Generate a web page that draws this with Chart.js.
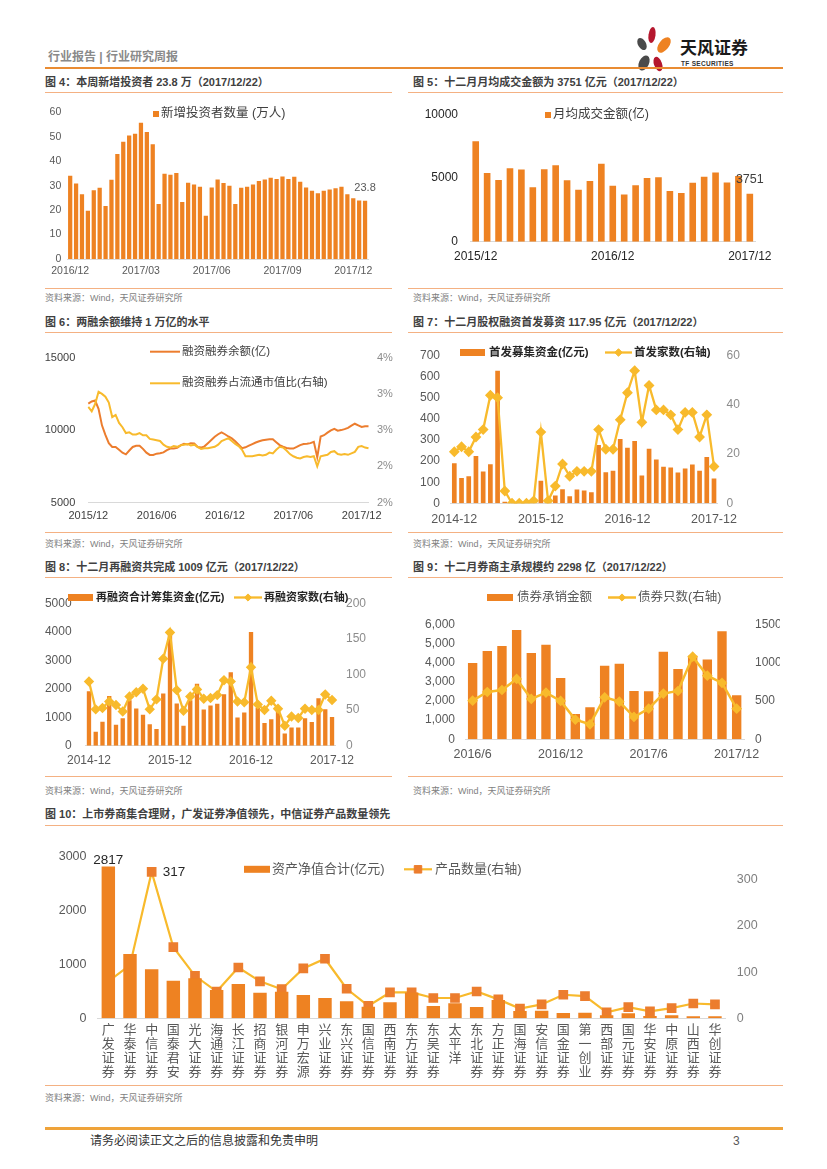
<!DOCTYPE html>
<html lang="zh-CN">
<head>
<meta charset="utf-8">
<title>行业研究周报</title>
<script src="https://cdn.jsdelivr.net/npm/chart.js@4.4.0/dist/chart.umd.min.js"></script>
<style>
  body { margin: 0; background: #fff; font-family: "Liberation Sans", "Noto Sans CJK SC", sans-serif; }
  #page { position: relative; width: 827px; height: 1169px; overflow: hidden; background: #fff; }
  .abs { position: absolute; white-space: nowrap; }
  .title { font-size: 11px; font-weight: bold; color: #404040; line-height: 14px; }
  .src { font-size: 9px; color: #7f7f7f; line-height: 12px; }
  .rule { position: absolute; height: 0; border-top: 1px solid #F4B183; }
  .box { position: absolute; }
</style>
</head>
<body>
<div id="page">
  <!-- header -->
  <div class="abs" style="left:48px;top:49px;font-size:12px;font-weight:bold;color:#8a8a8a;line-height:16px">行业报告 | 行业研究周报</div>
  <svg class="abs" style="left:630px;top:24px" width="50" height="50" viewBox="0 0 50 50">
    <ellipse cx="12" cy="20" rx="4" ry="6.5" fill="#4a4a4a" transform="rotate(-30 12 20)"/>
    <ellipse cx="22" cy="11" rx="3.5" ry="8" fill="#B5172E" transform="rotate(8 22 11)"/>
    <ellipse cx="34" cy="21" rx="5" ry="9" fill="#EE8222" transform="rotate(38 34 21)"/>
    <ellipse cx="14" cy="39" rx="5" ry="8" fill="#4a4a4a" transform="rotate(25 14 39)"/>
    <ellipse cx="28" cy="40" rx="4" ry="7.5" fill="#B5172E" transform="rotate(-20 28 40)"/>
  </svg>
  <div class="abs" style="left:680px;top:38px;font-size:17px;font-weight:bold;color:#1a1a1a;line-height:22px">天风证券</div>
  <div class="abs" style="left:681px;top:60px;font-size:6.5px;font-weight:bold;color:#333;line-height:8px;letter-spacing:0.3px">TF SECURITIES</div>
  <div class="rule" style="left:45px;top:67px;width:738px;border-top:2px solid #E98C33"></div>

  <!-- row 1 -->
  <div class="abs title" style="left:45px;top:75px">图 4：本周新增投资者 23.8 万（2017/12/22）</div>
  <div class="abs title" style="left:413px;top:75px">图 5：十二月月均成交金额为 3751 亿元（2017/12/22）</div>
  <div class="rule" style="left:45px;top:92px;width:347px"></div>
  <div class="rule" style="left:408px;top:92px;width:375px"></div>
  <div class="box" style="left:45px;top:100px;width:345px;height:186px"><canvas id="c4"></canvas></div>
  <div class="box" style="left:408px;top:95px;width:372px;height:190px"><canvas id="c5"></canvas></div>
  <div class="rule" style="left:45px;top:288px;width:347px"></div>
  <div class="rule" style="left:408px;top:288px;width:375px"></div>
  <div class="abs src" style="left:45px;top:292px">资料来源：Wind，天风证券研究所</div>
  <div class="abs src" style="left:413px;top:292px">资料来源：Wind，天风证券研究所</div>

  <!-- row 2 -->
  <div class="abs title" style="left:45px;top:315px">图 6：两融余额维持 1 万亿的水平</div>
  <div class="abs title" style="left:413px;top:315px">图 7：十二月股权融资首发募资 117.95 亿元（2017/12/22）</div>
  <div class="rule" style="left:45px;top:332px;width:347px"></div>
  <div class="rule" style="left:408px;top:332px;width:375px"></div>
  <div class="box" style="left:45px;top:338px;width:350px;height:195px"><canvas id="c6"></canvas></div>
  <div class="box" style="left:408px;top:338px;width:372px;height:195px"><canvas id="c7"></canvas></div>
  <div class="rule" style="left:45px;top:532px;width:347px"></div>
  <div class="rule" style="left:408px;top:532px;width:375px"></div>
  <div class="abs src" style="left:45px;top:538px">资料来源：Wind，天风证券研究所</div>
  <div class="abs src" style="left:413px;top:538px">资料来源：Wind，天风证券研究所</div>

  <!-- row 3 -->
  <div class="abs title" style="left:45px;top:560px">图 8：十二月再融资共完成 1009 亿元（2017/12/22）</div>
  <div class="abs title" style="left:413px;top:560px">图 9：十二月券商主承规模约 2298 亿（2017/12/22）</div>
  <div class="rule" style="left:45px;top:577px;width:347px"></div>
  <div class="rule" style="left:408px;top:577px;width:375px"></div>
  <div class="box" style="left:45px;top:582px;width:350px;height:190px"><canvas id="c8"></canvas></div>
  <div class="box" style="left:408px;top:582px;width:372px;height:190px"><canvas id="c9"></canvas></div>
  <div class="rule" style="left:45px;top:776px;width:347px"></div>
  <div class="rule" style="left:408px;top:776px;width:375px"></div>
  <div class="abs src" style="left:45px;top:785px">资料来源：Wind，天风证券研究所</div>
  <div class="abs src" style="left:413px;top:785px">资料来源：Wind，天风证券研究所</div>

  <!-- row 4 -->
  <div class="abs title" style="left:45px;top:807px">图 10：上市券商集合理财，广发证券净值领先，中信证券产品数量领先</div>
  <div class="rule" style="left:45px;top:825px;width:738px"></div>
  <div class="box" style="left:45px;top:830px;width:740px;height:255px"><canvas id="c10"></canvas></div>
  <div class="rule" style="left:45px;top:1085px;width:738px"></div>
  <div class="abs src" style="left:45px;top:1092px">资料来源：Wind，天风证券研究所</div>

  <!-- footer -->
  <div class="rule" style="left:45px;top:1127px;width:738px;border-top:3px solid #EFA33A"></div>
  <div class="abs" style="left:90px;top:1133px;font-size:12px;color:#333;line-height:16px">请务必阅读正文之后的信息披露和免责申明</div>
  <div class="abs" style="left:733px;top:1133px;font-size:12px;color:#595959;line-height:16px">3</div>
</div>

<script>
var FONT = '"Liberation Sans", "Noto Sans CJK SC", sans-serif';
var ORANGE = '#EE8222';
var YELLOW = '#F8BA2C';
var LINE_ORANGE = '#EC7D2E';

// 图4 weekly new investors (10k)
var fig4Ticks = ['2016/12', '2017/03', '2017/06', '2017/09', '2017/12'];
var fig4Values = [34.1, 30.9, 26.5, 19.7, 28.1, 29.1, 21.7, 32.4, 42.9, 48.0,
  50.5, 51.2, 55.7, 51.9, 46.9, 22.5, 34.9, 34.5, 35.2, 23.3,
  31.2, 30.5, 29.6, 17.7, 29.2, 32.5, 31.1, 30.0, 22.5, 29.1,
  29.6, 30.5, 31.9, 32.5, 33.2, 32.7, 33.7, 32.7, 33.6, 31.6,
  29.2, 27.9, 26.9, 27.9, 28.4, 28.9, 29.6, 26.5, 24.8, 23.9, 23.8];

// 图5 monthly average turnover (100m)
var fig5Ticks = ['2015/12', '2016/12', '2017/12'];
var fig5Values = [7877, 5383, 4840, 5753, 5654, 4272, 5679, 6000, 4815, 4074, 4765, 6123,
  4395, 3704, 4420, 4988, 5062, 3975, 3827, 4617, 5086, 5432, 4642, 5160, 3751];

// 图6 margin balance and ratio to free float cap
var fig6Ticks = ['2015/12', '2016/06', '2016/12', '2017/06', '2017/12'];
var fig6Balance = [11823, 11977, 12042, 11472, 10332, 9674, 9104, 8841, 8841, 8643,
  8446, 8336, 8599, 8841, 8928, 8928, 8709, 8446, 8292, 8292,
  8380, 8402, 8468, 8621, 8731, 8731, 8775, 8950, 9060, 9016,
  9104, 9082, 8841, 8797, 8884, 9104, 9323, 9542, 9718, 9849,
  9718, 9564, 9433, 9235, 8994, 8753, 8819, 8928, 9038, 9148,
  9235, 9301, 9345, 9367, 9367, 9170, 8972, 8863, 8775, 8731,
  8731, 8841, 8972, 9038, 9060, 9104, 9192, 8139, 9564, 9652,
  9827, 9981, 10091, 9959, 10003, 10069, 10157, 10310, 10442, 10332,
  10222, 10266, 10266];
var fig6Ratio = [3.07, 3.01, 3.11, 3.28, 3.25, 3.21, 3.13, 2.93, 2.96, 2.85,
  2.79, 2.71, 2.72, 2.69, 2.69, 2.71, 2.68, 2.68, 2.63, 2.62,
  2.61, 2.60, 2.55, 2.52, 2.51, 2.53, 2.52, 2.54, 2.55, 2.56,
  2.54, 2.55, 2.52, 2.49, 2.50, 2.50, 2.51, 2.52, 2.55, 2.60,
  2.62, 2.64, 2.60, 2.56, 2.53, 2.48, 2.39, 2.39, 2.39, 2.40,
  2.41, 2.40, 2.41, 2.44, 2.43, 2.48, 2.52, 2.51, 2.47, 2.42,
  2.39, 2.37, 2.36, 2.38, 2.39, 2.38, 2.39, 2.25, 2.39, 2.40,
  2.41, 2.45, 2.46, 2.42, 2.41, 2.42, 2.41, 2.43, 2.45, 2.52,
  2.53, 2.51, 2.50];

// 图7 IPO funds and IPO count
var fig7Ticks = ['2014-12', '2015-12', '2016-12', '2017-12'];
var fig7Funds = [190, 120, 129, 225, 151, 186, 630, 7, 0, 0,
  0, 0, 107, 3, 37, 67, 34, 66, 61, 53,
  277, 148, 154, 305, 264, 296, 132, 259, 208, 174,
  170, 146, 165, 184, 154, 220, 117.95];
var fig7Count = [21, 23, 21, 27, 30, 44, 43, 5, 0, 0,
  0, 1, 29, 1, 7, 16, 11, 13, 13, 13,
  30, 22, 22, 34, 45, 54, 33, 48, 38, 38,
  36, 30, 37, 37, 27, 36, 15];

// 图8 refinancing funds and count
var fig8Ticks = ['2014-12', '2015-12', '2016-12', '2017-12'];
var fig8Funds = [1908, 490, 842, 1748, 736, 960, 1599, 1301, 1087, 757,
  586, 1834, 3900, 1482, 704, 1599, 2175, 1269, 1407, 1471,
  1802, 2580, 991, 1162, 3987, 1333, 800, 928, 1247, 426,
  640, 640, 960, 832, 1663, 1279, 1009];
var fig8Count = [90, 51, 53, 62, 57, 48, 69, 75, 80, 51,
  65, 122, 159, 78, 49, 69, 79, 66, 67, 71,
  92, 90, 62, 61, 110, 58, 50, 63, 52, 28,
  41, 39, 52, 50, 50, 72, 64];

// 图9 bond underwriting amount and count
var fig9Ticks = ['2016/6', '2016/12', '2017/6', '2017/12'];
var fig9Amount = [3983, 4609, 4870, 5704, 4504, 4939, 3200, 1322, 1670, 3843,
  3948, 2522, 2504, 4574, 3670, 4365, 4157, 5635, 2298];
var fig9Count = [504, 617, 643, 787, 526, 609, 500, 257, 196, 548,
  491, 291, 400, 596, 630, 1078, 830, 735, 400];

// 图10 broker asset management
var fig10Brokers = ['广发证券', '华泰证券', '中信证券', '国泰君安', '光大证券', '海通证券', '长江证券',
  '招商证券', '银河证券', '申万宏源', '兴业证券', '东兴证券', '国信证券', '西南证券', '东方证券',
  '东吴证券', '太平洋', '东北证券', '方正证券', '国海证券', '安信证券', '国金证券', '第一创业',
  '西部证券', '国元证券', '华安证券', '中原证券', '山西证券', '华创证券'];
var fig10Nav = [2817, 1194, 909, 699, 742, 526, 637, 476, 495, 433, 377, 315, 216, 297, 480,
  229, 278, 210, 340, 136, 142, 99, 105, 56, 93, 43, 56, 37, 37];
var fig10Products = [80, 115, 317, 154, 92, 58, 110, 80, 63, 108, 129, 64, 27, 56, 56,
  44, 44, 58, 41, 21, 30, 51, 48, 13, 24, 15, 22, 32, 30];

function monthLabels(year, month, count, sep, pad) {
  var out = [];
  for (var i = 0; i < count; i++) {
    var k = month - 1 + i;
    var m = k % 12 + 1;
    out.push((year + Math.floor(k / 12)) + sep + (pad && m < 10 ? '0' + m : m));
  }
  return out;
}

function fitW(w) { return function (scale) { scale.width = w; }; }
function fitH(h) { return function (scale) { scale.height = h; }; }

function onlyTicks(list) {
  return function (value) {
    var label = this.getLabelForValue(value);
    return list.indexOf(label) >= 0 ? label : '';
  };
}

function catAxis(height, padding, size, color, callback) {
  var axis = {
    type: 'category',
    afterFit: fitH(height),
    grid: { display: false, drawTicks: false },
    border: { display: true, color: '#D9D9D9', width: 1 },
    ticks: { autoSkip: false, maxRotation: 0, minRotation: 0, padding: padding, font: { size: size }, color: color }
  };
  if (callback) axis.ticks.callback = callback;
  return axis;
}

function valAxis(position, width, padding, min, max, step, size, color, format) {
  return {
    type: 'linear',
    position: position,
    min: min,
    max: max,
    afterFit: fitW(width),
    grid: { display: false, drawTicks: false },
    border: { display: false },
    ticks: {
      stepSize: step, padding: padding, font: { size: size }, color: color,
      // plain numbers, no thousands separator unless asked for
      callback: format || function (v) { return String(v); }
    }
  };
}

// legend drawn at fixed spots, taking colour and text from the datasets
var pageLegend = {
  id: 'pageLegend',
  afterDraw: function (chart, args, opts) {
    if (!opts.items) return;
    var ctx = chart.ctx;
    ctx.save();
    ctx.textBaseline = 'middle';
    ctx.textAlign = 'left';
    opts.items.forEach(function (it) {
      var ds = chart.data.datasets[it.ds];
      if (it.kind === 'square') {
        ctx.fillStyle = ds.backgroundColor;
        ctx.fillRect(it.x, it.y - it.w / 2, it.w, it.w);
      } else if (it.kind === 'rect') {
        ctx.fillStyle = ds.backgroundColor;
        ctx.fillRect(it.x, it.y - 3.5, it.w, 7);
      } else {
        ctx.strokeStyle = ds.borderColor;
        ctx.lineWidth = ds.borderWidth;
        ctx.beginPath();
        ctx.moveTo(it.x, it.y);
        ctx.lineTo(it.x + it.w, it.y);
        ctx.stroke();
        if (ds.pointRadius > 0) {
          ctx.fillStyle = ds.pointBackgroundColor;
          ctx.strokeStyle = ds.pointBorderColor;
          ctx.lineWidth = 1;
          Chart.helpers.drawPoint(ctx, { pointStyle: ds.pointStyle, radius: ds.pointRadius, borderWidth: 1, rotation: 0 }, it.x + it.w / 2, it.y);
        }
      }
      ctx.font = (opts.bold ? 'bold ' : '') + opts.size + 'px ' + FONT;
      ctx.fillStyle = opts.color;
      ctx.fillText(ds.label, it.tx, it.y);
    });
    ctx.restore();
  }
};

// single value labels next to chosen marks
var valueLabels = {
  id: 'valueLabels',
  afterDatasetsDraw: function (chart, args, opts) {
    if (!opts.items) return;
    var ctx = chart.ctx;
    ctx.save();
    ctx.textBaseline = 'middle';
    opts.items.forEach(function (it) {
      var el = chart.getDatasetMeta(it.ds).data[it.index];
      var value = chart.data.datasets[it.ds].data[it.index];
      ctx.font = it.size + 'px ' + FONT;
      ctx.fillStyle = it.color;
      ctx.textAlign = it.align || 'center';
      ctx.fillText(String(value), el.x + (it.dx || 0), el.y + (it.dy || 0));
    });
    ctx.restore();
  }
};

Chart.register(pageLegend, valueLabels);
Chart.defaults.font.family = FONT;
Chart.defaults.color = '#595959';
Chart.defaults.animation = false;
Chart.defaults.maintainAspectRatio = false;
Chart.defaults.plugins.legend.display = false;
Chart.defaults.plugins.tooltip.enabled = false;

// 图4
var fig4Labels = fig4Values.map(function (v, i) { return i % 12 === 0 ? fig4Ticks[i / 12] : ''; });
new Chart(document.getElementById('c4'), {
  type: 'bar',
  data: {
    labels: fig4Labels,
    datasets: [{ label: '新增投资者数量 (万人)', data: fig4Values, backgroundColor: ORANGE, categoryPercentage: 1, barPercentage: 0.72 }]
  },
  options: {
    layout: { padding: { top: 9, right: 22, left: 0, bottom: 0 } },
    scales: {
      x: catAxis(27, 6, 10.5, '#595959'),
      y: valAxis('left', 21, 6, 0, 60, 10, 10.5, '#595959')
    },
    plugins: {
      pageLegend: { size: 12.5, color: '#404040', items: [{ ds: 0, kind: 'square', x: 108, w: 6, y: 14, tx: 116 }] },
      valueLabels: { items: [{ ds: 0, index: fig4Values.length - 1, dy: -13, size: 11, color: '#595959' }] }
    }
  }
});

// 图5
var fig5Months = monthLabels(2015, 12, fig5Values.length, '/', true);
new Chart(document.getElementById('c5'), {
  type: 'bar',
  data: {
    labels: fig5Months,
    datasets: [{ label: '月均成交金额(亿)', data: fig5Values, backgroundColor: ORANGE, categoryPercentage: 1, barPercentage: 0.58 }]
  },
  options: {
    layout: { padding: { top: 11.7, right: 24.3, left: 0, bottom: 0 } },
    scales: {
      x: catAxis(43.3, 8, 12, '#262626', onlyTicks(fig5Ticks)),
      y: valAxis('left', 62, 12, 0, 10000, 5000, 12, '#262626')
    },
    plugins: {
      pageLegend: { size: 12.5, color: '#404040', items: [{ ds: 0, kind: 'square', x: 137, w: 6, y: 20, tx: 145 }] },
      valueLabels: { items: [{ ds: 0, index: fig5Values.length - 1, dy: -14.5, size: 12.5, color: '#404040' }] }
    }
  }
});

// 图6
var fig6Labels = fig6Balance.map(function (v, i) { return i % 20 === 0 ? fig6Ticks[i / 20] : ''; });
new Chart(document.getElementById('c6'), {
  type: 'line',
  data: {
    labels: fig6Labels,
    datasets: [
      { label: '融资融券余额(亿)', data: fig6Balance, borderColor: LINE_ORANGE, borderWidth: 2, pointRadius: 0, yAxisID: 'y', order: 1 },
      { label: '融资融券占流通市值比(右轴)', data: fig6Ratio, borderColor: YELLOW, borderWidth: 2, pointRadius: 0, yAxisID: 'y1', order: 0 }
    ]
  },
  options: {
    layout: { padding: { top: 12.7, right: 0, left: 0, bottom: 0 } },
    scales: {
      x: catAxis(30.3, 6.5, 11, '#404040'),
      y: valAxis('left', 43.3, 13, 5000, 15000, 5000, 11, '#404040'),
      y1: valAxis('right', 26.5, 8.5, 1.75, 3.75, 0.5, 11, '#8c8c8c', function (v) { return Math.round(v) + '%'; })
    },
    plugins: {
      pageLegend: { size: 11.5, color: '#404040', items: [
        { ds: 0, kind: 'line', x: 105, w: 30, y: 13.7, tx: 137 },
        { ds: 1, kind: 'line', x: 105, w: 30, y: 45.3, tx: 137 }
      ] }
    }
  }
});

// 图7
var fig7Months = monthLabels(2014, 12, fig7Funds.length, '-', true);
new Chart(document.getElementById('c7'), {
  type: 'bar',
  data: {
    labels: fig7Months,
    datasets: [
      { label: '首发募集资金(亿元)', data: fig7Funds, backgroundColor: ORANGE, categoryPercentage: 1, barPercentage: 0.65, yAxisID: 'y', order: 1 },
      { type: 'line', label: '首发家数(右轴)', data: fig7Count, borderColor: YELLOW, borderWidth: 2.3, pointStyle: 'rectRot',
        pointRadius: 3.8, pointBackgroundColor: YELLOW, pointBorderColor: YELLOW, yAxisID: 'y1', order: 0 }
    ]
  },
  options: {
    layout: { padding: { top: 6, right: 0, left: 0, bottom: 0 } },
    scales: {
      x: catAxis(29.7, 8.5, 12.5, '#595959', onlyTicks(fig7Ticks)),
      y: valAxis('left', 42.7, 10.7, 0, 700, 100, 12, '#595959'),
      y1: valAxis('right', 62.4, 9, 0, 60, 20, 12, '#8c8c8c')
    },
    plugins: {
      pageLegend: { size: 11.5, bold: true, color: '#262626', items: [
        { ds: 0, kind: 'rect', x: 52, w: 25, y: 14.5, tx: 81 },
        { ds: 1, kind: 'line', x: 197, w: 27, y: 14.5, tx: 226 }
      ] }
    }
  }
});

// 图8
var fig8Months = monthLabels(2014, 12, fig8Funds.length, '-', true);
new Chart(document.getElementById('c8'), {
  type: 'bar',
  data: {
    labels: fig8Months,
    datasets: [
      { label: '再融资合计筹集资金(亿元)', data: fig8Funds, backgroundColor: ORANGE, categoryPercentage: 1, barPercentage: 0.64, yAxisID: 'y', order: 1 },
      { type: 'line', label: '再融资家数(右轴)', data: fig8Count, borderColor: YELLOW, borderWidth: 2.3, pointStyle: 'rectRot',
        pointRadius: 3.6, pointBackgroundColor: YELLOW, pointBorderColor: YELLOW, yAxisID: 'y1', order: 0 }
    ]
  },
  options: {
    layout: { padding: { top: 7.3, right: 0, left: 0, bottom: 0 } },
    scales: {
      x: catAxis(26.3, 8, 12, '#595959', onlyTicks(fig8Ticks)),
      y: valAxis('left', 40.6, 14, 0, 5000, 1000, 12, '#595959'),
      y1: valAxis('right', 59.6, 10.6, 0, 200, 50, 12, '#8c8c8c')
    },
    plugins: {
      pageLegend: { size: 11, bold: true, color: '#262626', items: [
        { ds: 0, kind: 'rect', x: 23, w: 25, y: 15.5, tx: 51 },
        { ds: 1, kind: 'line', x: 189, w: 28, y: 15.5, tx: 219 }
      ] }
    }
  }
});

// 图9
var fig9Months = monthLabels(2016, 6, fig9Amount.length, '/', false);
new Chart(document.getElementById('c9'), {
  type: 'bar',
  data: {
    labels: fig9Months,
    datasets: [
      { label: '债券承销金额', data: fig9Amount, backgroundColor: ORANGE, categoryPercentage: 1, barPercentage: 0.64, yAxisID: 'y', order: 1 },
      { type: 'line', label: '债券只数(右轴)', data: fig9Count, borderColor: YELLOW, borderWidth: 2.5, pointStyle: 'rectRot',
        pointRadius: 3.6, pointBackgroundColor: YELLOW, pointBorderColor: YELLOW, yAxisID: 'y1', order: 0 }
    ]
  },
  options: {
    layout: { padding: { top: 42.3, right: 0, left: 0, bottom: 0 } },
    scales: {
      x: catAxis(32.7, 8.2, 12.5, '#595959', onlyTicks(fig9Ticks)),
      y: valAxis('left', 57.3, 10.3, 0, 6000, 1000, 12, '#595959', function (v) { return v.toLocaleString('en-US'); }),
      y1: valAxis('right', 36, 11, 0, 1500, 500, 12, '#595959')
    },
    plugins: {
      pageLegend: { size: 12.5, color: '#595959', items: [
        { ds: 0, kind: 'rect', x: 79, w: 26, y: 15.5, tx: 109 },
        { ds: 1, kind: 'line', x: 200, w: 28, y: 15.5, tx: 230 }
      ] }
    }
  }
});

// 图10
var fig10Labels = fig10Brokers.map(function (name) { return name.split(''); });
new Chart(document.getElementById('c10'), {
  type: 'bar',
  data: {
    labels: fig10Labels,
    datasets: [
      { label: '资产净值合计(亿元)', data: fig10Nav, backgroundColor: ORANGE, categoryPercentage: 1, barPercentage: 0.62, yAxisID: 'y', order: 0 },
      { type: 'line', label: '产品数量(右轴)', data: fig10Products, borderColor: YELLOW, borderWidth: 2.2, pointStyle: 'rect',
        pointRadius: 5.3, pointBackgroundColor: LINE_ORANGE, pointBorderColor: LINE_ORANGE, yAxisID: 'y1', order: 1 }
    ]
  },
  options: {
    layout: { padding: { top: 26.7, right: 0, left: 0, bottom: 0 } },
    scales: {
      x: (function () {
        var ax = catAxis(66.7, 4.7, 13, '#595959');
        ax.ticks.font.lineHeight = 1.08;
        return ax;
      })(),
      y: valAxis('left', 52.5, 11, 0, 3000, 1000, 12.5, '#595959'),
      y1: valAxis('right', 59.2, 11, 0, 350, 100, 12.5, '#7f7f7f', function (v) { return v % 100 === 0 ? String(v) : ''; })
    },
    plugins: {
      pageLegend: { size: 13, color: '#595959', items: [
        { ds: 0, kind: 'rect', x: 199, w: 26, y: 39.3, tx: 227 },
        { ds: 1, kind: 'line', x: 359, w: 28, y: 39.3, tx: 390 }
      ] },
      valueLabels: { items: [
        { ds: 0, index: 0, dy: -6, size: 13.5, color: '#262626' },
        { ds: 1, index: 2, dx: 11, align: 'left', size: 13.5, color: '#262626' }
      ] }
    }
  }
});
</script>
</body>
</html>
